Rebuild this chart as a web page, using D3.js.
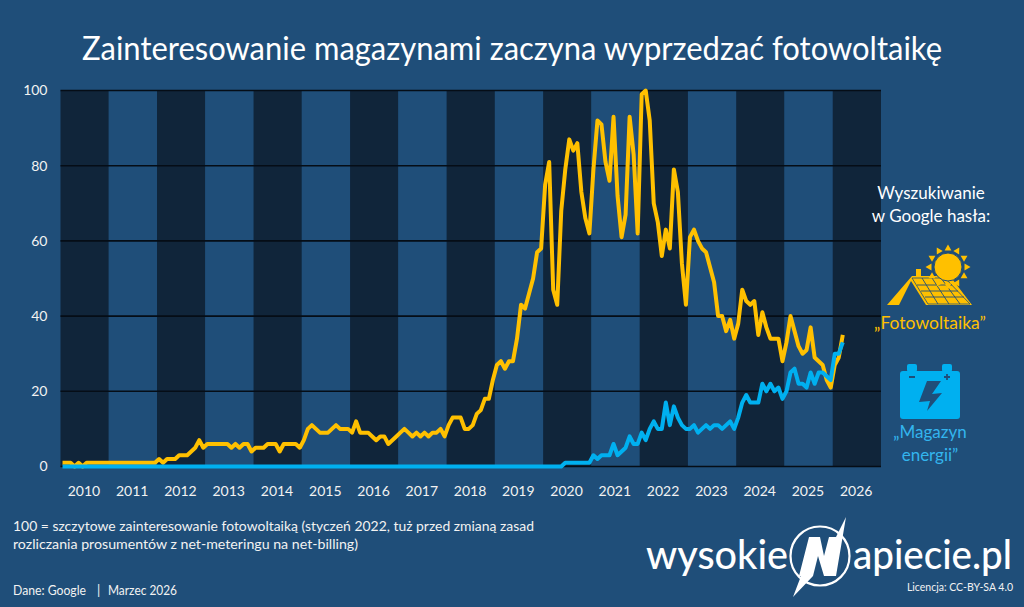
<!DOCTYPE html>
<html lang="pl">
<head>
<meta charset="utf-8">
<script src="https://cdn.jsdelivr.net/npm/d3@7/dist/d3.min.js"></script>
<style>
html,body{margin:0;padding:0;background:#1f4e79;}
svg{display:block;}
text{font-family:Lato,"Open Sans",sans-serif;}
</style>
</head>
<body>
<svg id="chart" width="1024" height="607"></svg>
<script>
// Monthly Google Trends index, January 2010 to March 2026
const years = [2010,2011,2012,2013,2014,2015,2016,2017,2018,2019,2020,2021,2022,2023,2024,2025,2026];
const yTicks = [0,20,40,60,80,100];
const fotowoltaika = [
  1,1,1,0,1,0,1,1,1,1,1,1,
  1,1,1,1,1,1,1,1,1,1,1,1,
  2,1,2,2,2,3,3,3,4,5,7,5,
  6,6,6,6,6,6,5,6,5,6,6,4,
  5,5,5,6,6,6,4,6,6,6,6,5,
  7,10,11,10,9,9,9,10,11,10,10,10,
  9,12,9,9,9,8,7,8,8,6,7,8,
  9,10,9,8,9,8,9,8,9,9,10,8,
  11,13,13,13,10,10,11,14,15,18,18,23,
  27,28,26,28,28,34,43,42,46,50,57,58,
  75,81,47,43,68,79,87,84,86,73,66,62,
  79,92,91,81,76,93,72,61,67,93,83,62,
  99,100,92,70,65,56,63,58,79,73,54,43,
  61,63,60,58,57,53,49,40,40,36,39,34,
  38,47,44,43,44,35,41,37,34,34,34,28,
  33,40,36,32,30,31,37,29,28,27,23,21,
  27,29,35
];
const magazynEnergii = [
  0,0,0,0,0,0,0,0,0,0,0,0,
  0,0,0,0,0,0,0,0,0,0,0,0,
  0,0,0,0,0,0,0,0,0,0,0,0,
  0,0,0,0,0,0,0,0,0,0,0,0,
  0,0,0,0,0,0,0,0,0,0,0,0,
  0,0,0,0,0,0,0,0,0,0,0,0,
  0,0,0,0,0,0,0,0,0,0,0,0,
  0,0,0,0,0,0,0,0,0,0,0,0,
  0,0,0,0,0,0,0,0,0,0,0,0,
  0,0,0,0,0,0,0,0,0,0,0,0,
  0,0,0,0,0,1,1,1,1,1,1,1,
  3,2,3,3,3,6,3,4,5,8,6,6,
  9,7,10,12,10,10,17,11,16,13,11,10,
  10,11,9,10,11,10,11,11,10,11,12,10,
  13,17,19,17,17,17,22,20,22,20,21,18,
  20,25,26,22,22,21,25,22,25,25,24,23,
  30,30,33
];
const titleText = "Zainteresowanie magazynami zaczyna wyprzedzać fotowoltaikę";
const noteLines = [
  "100 = szczytowe zainteresowanie fotowoltaiką (styczeń 2022, tuż przed zmianą zasad",
  "rozliczania prosumentów z net-meteringu na net-billing)"
];
const noteWidths = [521, 345];

const colors = {bg:"#1f4e79", dark:"#10253a", grid:"#050d16", solar:"#ffc000", storage:"#00b0f0", storageText:"#33b5ee", text:"#ffffff"};
const svg = d3.select("#chart");

const x = d3.scaleLinear().domain([2010, 2027]).range([60.5, 881]);
const y = d3.scaleLinear().domain([0, 100]).range([466.5, 90.5]);
const monthX = i => x(2010 + (i + 0.5) / 12);

svg.append("rect").attr("width",1024).attr("height",607).attr("fill",colors.bg);

// Alternating year bands
svg.append("g").selectAll("rect").data(years).join("rect")
  .attr("x", d => x(d)).attr("width", d => x(d+1) - x(d))
  .attr("y", y(100)).attr("height", y(0) - y(100))
  .attr("fill", (d,i) => i % 2 ? colors.bg : colors.dark);

// Horizontal grid
svg.append("g").selectAll("line").data(yTicks).join("line")
  .attr("x1", x(2010)).attr("x2", x(2027))
  .attr("y1", d => y(d)).attr("y2", d => y(d))
  .attr("stroke", colors.grid).attr("stroke-width", 1.6);

// Axes
const yAxis = svg.append("g").attr("transform","translate(60.5,0)")
  .call(d3.axisLeft(y).tickValues(yTicks).tickSize(0).tickPadding(13));
const xAxis = svg.append("g").attr("transform","translate(-1.2,467)")
  .call(d3.axisBottom(x)
    .tickValues(years.map(d => d + 0.5)).tickFormat(d => String(Math.floor(d))).tickSize(0).tickPadding(19));
[yAxis, xAxis].forEach(a => {
  a.select(".domain").remove();
  a.selectAll("text").attr("fill","#f2f2f2").style("font-size","14px").style("font-family","Lato,sans-serif");
});

// Series
const line = d3.line().x((d,i) => monthX(i)).y(d => y(d)).curve(d3.curveLinear);
[[fotowoltaika, colors.solar],[magazynEnergii, colors.storage]].forEach(([vals,c]) => {
  svg.append("path").datum(vals).attr("d", line).attr("fill","none")
    .attr("stroke", c).attr("stroke-width", 4).attr("stroke-linejoin","round").attr("stroke-linecap","butt");
});

// Title
svg.append("text").text(titleText).attr("x",512).attr("y",60)
  .attr("text-anchor","middle").attr("fill",colors.text)
  .attr("font-size",32).attr("font-weight",400)
  .attr("textLength",860).attr("lengthAdjust","spacingAndGlyphs");

// Notes
noteLines.forEach((t,i) => {
  svg.append("text").text(t).attr("x",13).attr("y",531 + i*18)
    .attr("fill","#f2f2f2").attr("font-size",14)
    .attr("textLength",noteWidths[i]).attr("lengthAdjust","spacingAndGlyphs");
});
svg.append("text").attr("x",13).attr("y",595).attr("fill","#f2f2f2").attr("font-size",13)
  .attr("textLength",73).attr("lengthAdjust","spacingAndGlyphs").text("Dane: Google");
svg.append("text").attr("x",97).attr("y",595).attr("fill","#f2f2f2").attr("font-size",13)
  .text("|");
svg.append("text").attr("x",108).attr("y",595).attr("fill","#f2f2f2").attr("font-size",13)
  .attr("textLength",69).attr("lengthAdjust","spacingAndGlyphs").text("Marzec 2026");

// Legend heading
const legendX = 931;
["Wyszukiwanie","w Google hasła:"].forEach((t,i) => {
  svg.append("text").text(t).attr("x",legendX).attr("y",199 + i*23)
    .attr("text-anchor","middle").attr("fill",colors.text).attr("font-size",17);
});

// Rooftop panel and sun icon
const solar = svg.append("g");
solar.append("path").attr("fill",colors.solar)
  .attr("d","M887 305 L912 276 L916 276 L916 269 L921 269 L921 276 L950 276 L972 305 L926 305 L911 281 L899 305 Z");
solar.append("path").attr("fill",colors.solar).attr("stroke",colors.bg).attr("stroke-width",0.8)
  .attr("d","M912 278 L945 278 L970 304 L928 304 Z");
solar.append("path").attr("fill","none").attr("stroke",colors.bg).attr("stroke-width",0.9)
  .attr("d","M917 285 L952 285 M921 291 L958 291 M925 297 L964 297 M922 278 L938 304 M932 278 L949 304 M941 278 L960 304");
const sunC = [948, 267];
solar.append("circle").attr("cx",sunC[0]).attr("cy",sunC[1]).attr("r",14)
  .attr("fill",colors.solar).attr("stroke",colors.bg).attr("stroke-width",1);
d3.range(12).forEach(k => {
  solar.append("path").attr("fill",colors.solar)
    .attr("transform",`translate(${sunC[0]},${sunC[1]}) rotate(${k*30})`)
    .attr("d","M-3.4 -16.5 L0 -22.5 L3.4 -16.5 Z");
});
svg.append("text").text("„Fotowoltaika”").attr("x",930).attr("y",329)
  .attr("text-anchor","middle").attr("fill",colors.solar).attr("font-size",17.5);

// Battery icon
const batt = svg.append("g");
batt.append("rect").attr("x",907).attr("y",364).attr("width",10).attr("height",8).attr("rx",2).attr("fill",colors.storage);
batt.append("rect").attr("x",942).attr("y",364).attr("width",10).attr("height",8).attr("rx",2).attr("fill",colors.storage);
batt.append("rect").attr("x",900).attr("y",371).attr("width",60).attr("height",48).attr("rx",3).attr("fill",colors.storage);
batt.append("path").attr("fill",colors.bg)
  .attr("d","M941 381 L927 381 L919 402 L930 401 L927 411 L942 393 L932 394 Z");
batt.append("path").attr("stroke",colors.bg).attr("stroke-width",1.8).attr("fill","none")
  .attr("d","M909 377 L915 377 M944 377 L950 377 M947 374 L947 380");
["„Magazyn","energii”"].forEach((t,i) => {
  svg.append("text").text(t).attr("x",930).attr("y",438 + i*23)
    .attr("text-anchor","middle").attr("fill",colors.storageText).attr("font-size",17);
});

// Publisher mark
const logoAttrs = t => t.attr("fill",colors.text).attr("font-family","Roboto,sans-serif")
  .attr("font-weight",500).attr("font-size",41).attr("lengthAdjust","spacingAndGlyphs");
svg.append("text").text("wysokie").attr("x",646).attr("y",569).call(logoAttrs).attr("textLength",142);
svg.append("text").text("apiecie.pl").attr("x",853).attr("y",569).call(logoAttrs).attr("textLength",159);
svg.append("circle").attr("cx",820).attr("cy",556).attr("r",29.5).attr("fill","none")
  .attr("stroke",colors.text).attr("stroke-width",2.2);
svg.append("path").attr("fill",colors.text)
  .attr("d","M809 537 L820 537 L824 556 L829 537 L836 537 L846 517 L836 576 L824 576 L818 556 L813 576 L793 597 L801 576 L799 576 Z");
svg.append("text").text("Licencja: CC-BY-SA 4.0").attr("x",1013).attr("y",591)
  .attr("text-anchor","end").attr("fill","#f2f2f2").attr("font-size",10.5);
</script>
</body>
</html>
